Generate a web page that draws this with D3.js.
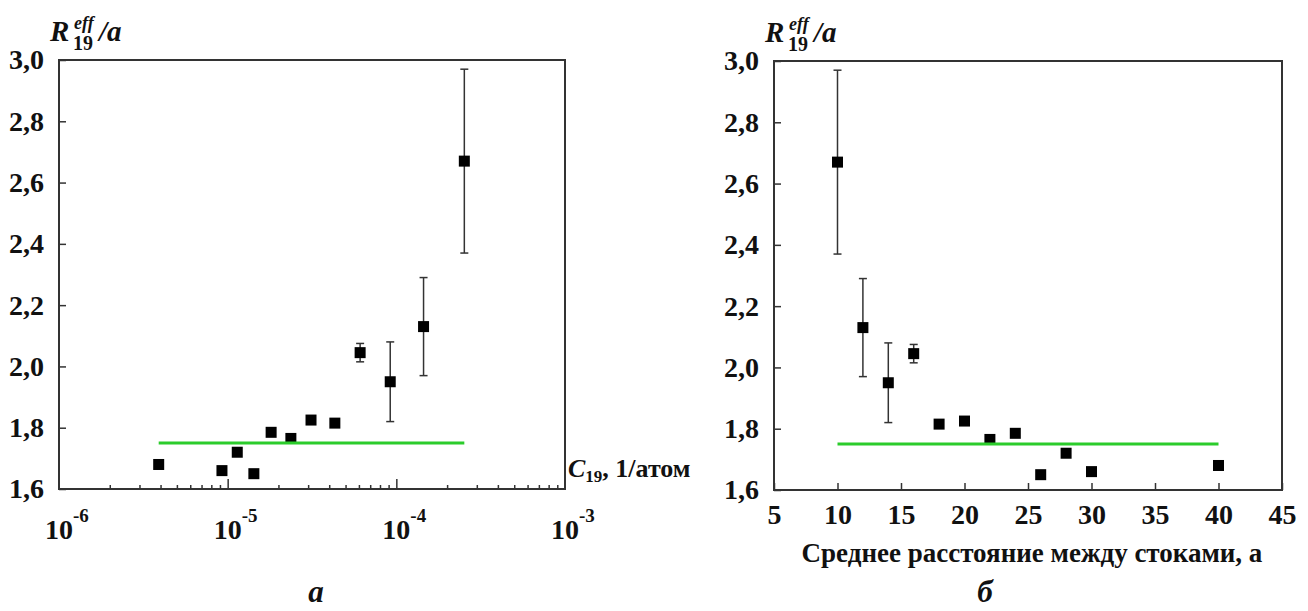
<!DOCTYPE html>
<html>
<head>
<meta charset="utf-8">
<script src="https://cdn.jsdelivr.net/npm/d3@7"></script>
<style>
  body { margin: 0; background: #fff; }
  svg text { font-family: "Liberation Serif", "DejaVu Serif", serif; font-weight: bold; fill: #111; }
</style>
</head>
<body>
<svg id="chart" width="1308" height="611"></svg>
<script>
// values (same points in both panels)
const rValues = [1.68, 1.66, 1.72, 1.65, 1.785, 1.765, 1.825, 1.815, 2.045, 1.95, 2.13, 2.67];
const rErrors = [0, 0, 0, 0, 0, 0, 0, 0, 0.03, 0.13, 0.16, 0.30];
const concValues = [3.9e-6, 9.25e-6, 1.14e-5, 1.43e-5, 1.81e-5, 2.37e-5, 3.12e-5, 4.32e-5, 6.1e-5, 9.2e-5, 1.45e-4, 2.53e-4];
const distValues = [40, 30, 28, 26, 24, 22, 20, 18, 16, 14, 12, 10];
const fitLevel = 1.75;

const yTicks = [1.6, 1.8, 2.0, 2.2, 2.4, 2.6, 2.8, 3.0];
const logExponents = [-6, -5, -4, -3];
const distTicks = [5, 10, 15, 20, 25, 30, 35, 40, 45];

const svg = d3.select("#chart");
const green = "#2bcc2b";
const ink = "#333";
const serif = "'Liberation Serif', 'DejaVu Serif', serif";
const fmt = (d) => d.toFixed(1).replace(".", ",");

const panels = [
  { left: 59, right: 565, top: 60, bottom: 489 },
  { left: 774, right: 1282, top: 61, bottom: 490 },
];

const xL = d3.scaleLog().domain([1e-6, 1e-3]).range([panels[0].left, panels[0].right]);
const xR = d3.scaleLinear().domain([5, 45]).range([panels[1].left, panels[1].right]);
const yScales = panels.map((p) => d3.scaleLinear().domain([1.6, 3.0]).range([p.bottom, p.top]));

function styleTicks(a, size) {
  a.attr("font-family", serif);
  a.select(".domain").remove();
  a.selectAll("line").attr("stroke", ink).attr("stroke-width", 1.5);
  if (size) a.selectAll("text").attr("font-size", size).attr("fill", "#111").attr("font-weight", "bold");
}

function drawPanel(p, x, y, xValues) {
  const g = svg.append("g").attr("font-family", serif);
  const pts = xValues.map((v, i) => ({ x: v, r: rValues[i], e: rErrors[i] }));

  // y axis, ticks inward
  const yAxis = g.append("g")
    .attr("transform", `translate(${p.left},0)`)
    .call(d3.axisLeft(y).tickValues(yTicks).tickSizeInner(-7).tickSizeOuter(0).tickPadding(15).tickFormat(fmt));
  styleTicks(yAxis, 28);

  // error bars
  const eb = pts.filter((d) => d.e > 0);
  g.selectAll(".err").data(eb).enter().append("line")
    .attr("x1", (d) => x(d.x)).attr("x2", (d) => x(d.x))
    .attr("y1", (d) => y(d.r - d.e)).attr("y2", (d) => y(d.r + d.e))
    .attr("stroke", ink).attr("stroke-width", 1.5);
  ["lo", "hi"].forEach((k) => {
    g.selectAll(".cap-" + k).data(eb).enter().append("line")
      .attr("x1", (d) => x(d.x) - 4).attr("x2", (d) => x(d.x) + 4)
      .attr("y1", (d) => y(k === "lo" ? d.r - d.e : d.r + d.e))
      .attr("y2", (d) => y(k === "lo" ? d.r - d.e : d.r + d.e))
      .attr("stroke", ink).attr("stroke-width", 1.5);
  });

  // square markers
  g.selectAll(".pt").data(pts).enter().append("rect")
    .attr("x", (d) => x(d.x) - 5.5).attr("y", (d) => y(d.r) - 5.5)
    .attr("width", 11).attr("height", 11).attr("fill", "#000");

  // fitted level
  const ext = d3.extent(xValues);
  g.append("line")
    .attr("x1", x(ext[0])).attr("x2", x(ext[1]))
    .attr("y1", y(fitLevel)).attr("y2", y(fitLevel))
    .attr("stroke", green).attr("stroke-width", 3);

  // frame
  g.append("rect")
    .attr("x", p.left).attr("y", p.top)
    .attr("width", p.right - p.left).attr("height", p.bottom - p.top)
    .attr("fill", "none").attr("stroke", ink).attr("stroke-width", 2);

  // y title R_19^eff / a
  const t = g.append("g").attr("transform", `translate(${p.left},${p.top})`);
  t.append("text").attr("x", -9).attr("y", -19).attr("font-size", 29).attr("font-style", "italic").text("R");
  t.append("text").attr("x", 15).attr("y", -31).attr("font-size", 18).attr("font-style", "italic").text("eff");
  t.append("text").attr("x", 14).attr("y", -10).attr("font-size", 20).text("19");
  t.append("text").attr("x", 40).attr("y", -19).attr("font-size", 29).attr("font-style", "italic").text("/a");
  return g;
}

// left panel: log concentration axis
const gL = drawPanel(panels[0], xL, yScales[0], concValues);
const minorVals = [];
logExponents.slice(0, -1).forEach((e) => {
  for (let m = 2; m <= 9; m++) minorVals.push(m * Math.pow(10, e));
});
const xMinor = gL.append("g").attr("transform", `translate(0,${panels[0].bottom})`)
  .call(d3.axisBottom(xL).tickValues(minorVals).tickSizeInner(-4).tickSizeOuter(0).tickFormat(""));
const xMajor = gL.append("g").attr("transform", `translate(0,${panels[0].bottom})`)
  .call(d3.axisBottom(xL).tickValues([1e-5, 1e-4]).tickSizeInner(-10).tickSizeOuter(0).tickFormat(""));
styleTicks(xMinor);
styleTicks(xMajor);
const lab = gL.selectAll(".xlab").data(logExponents).enter().append("text")
  .attr("x", (e) => xL(Math.pow(10, e)) - 14)
  .attr("y", panels[0].bottom + 50)
  .attr("font-size", 28);
lab.append("tspan").text("10");
lab.append("tspan").attr("dy", -17).attr("font-size", 19).text((e) => "-" + Math.abs(e));

const cl = gL.append("text").attr("x", 568).attr("y", 477).attr("font-size", 26);
cl.append("tspan").attr("font-style", "italic").text("C");
cl.append("tspan").attr("dy", 5).attr("font-size", 17).text("19");
cl.append("tspan").attr("dy", -5).text(", 1/атом");

gL.append("text").attr("x", 316).attr("y", 602).attr("font-size", 31)
  .attr("font-style", "italic").attr("text-anchor", "middle").text("a");

// right panel: mean distance between sinks
const gR = drawPanel(panels[1], xR, yScales[1], distValues);
const xAxisR = gR.append("g").attr("transform", `translate(0,${panels[1].bottom})`)
  .call(d3.axisBottom(xR).tickValues(distTicks).tickSizeInner(-7).tickSizeOuter(0).tickPadding(14));
styleTicks(xAxisR, 28);

gR.append("text").attr("x", 1032).attr("y", 562).attr("font-size", 27)
  .attr("text-anchor", "middle").text("Среднее расстояние между стоками, а");
gR.append("text").attr("x", 985).attr("y", 602).attr("font-size", 31)
  .attr("font-style", "italic").attr("text-anchor", "middle").text("б");
</script>
</body>
</html>
